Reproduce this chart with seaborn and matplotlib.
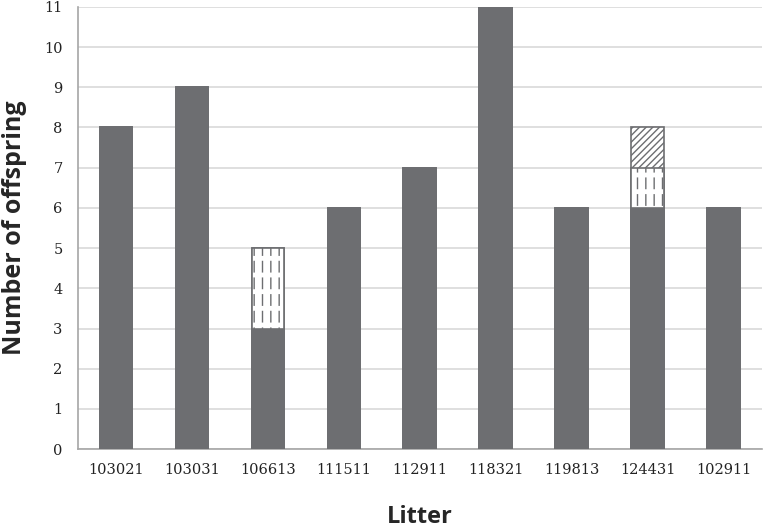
import matplotlib.pyplot as plt
import numpy as np
import pandas as pd
import seaborn as sns

litters = ["103021", "103031", "106613", "111511", "112911",
           "118321", "119813", "124431", "102911"]
solid = [8, 9, 3, 6, 7, 11, 6, 6, 6]
dashed = [0, 0, 2, 0, 0, 0, 0, 1, 0]
hatched = [0, 0, 0, 0, 0, 0, 0, 1, 0]


def main() -> None:
    df = pd.DataFrame({"Litter": litters, "solid": solid,
                       "dashed": dashed, "hatched": hatched})
    df["lvl2"] = df["solid"] + df["dashed"]
    df["lvl3"] = df["lvl2"] + df["hatched"]

    sns.set_style("white")
    plt.rcParams["hatch.linewidth"] = 1.0

    fig = plt.figure(figsize=(7.64, 5.29), dpi=100)
    ax = fig.add_axes([0.102, 0.151, 0.895, 0.836])

    grey = "#6d6e71"
    w = 0.43
    # stacked segments drawn as cumulative totals, top layer first
    sns.barplot(data=df, x="Litter", y="lvl3", ax=ax, width=w, color="white",
                edgecolor=grey, linewidth=1.2, hatch="/////", saturation=1, zorder=3)
    sns.barplot(data=df, x="Litter", y="lvl2", ax=ax, width=w, color="white",
                edgecolor=grey, linewidth=0, hatch="||", saturation=1, zorder=3)
    # white horizontal hatch breaks the vertical lines into dashes
    sns.barplot(data=df, x="Litter", y="lvl2", ax=ax, width=w, color="white",
                saturation=1, zorder=3.1)
    for p in ax.containers[-1]:
        p.set_facecolor("none")
        p.set_edgecolor("white")
        p.set_linewidth(0)
        p.set_hatch("-")
        if hasattr(p, "set_hatch_linewidth"):
            p.set_hatch_linewidth(3.5)
    # outline of the dashed segment
    sns.barplot(data=df, x="Litter", y="lvl2", ax=ax, width=w, color="white",
                saturation=1, zorder=3.2)
    for p in ax.containers[-1]:
        p.set_facecolor("none")
        p.set_edgecolor(grey)
        p.set_linewidth(1.2)
    sns.barplot(data=df, x="Litter", y="solid", ax=ax, width=w, color=grey,
                edgecolor=grey, linewidth=1.2, saturation=1, zorder=3.3)

    ax.set_ylim(0, 11)
    ax.set_xlim(-0.5, len(litters) - 0.5)
    ax.set_yticks(range(0, 12))
    ax.yaxis.grid(True, color="#d9d9d9", linewidth=1.2, zorder=0)
    ax.set_axisbelow(True)

    ax.set_xticks(np.arange(-0.5, len(litters)), minor=True)
    ax.tick_params(axis="x", which="major", length=0, pad=10)
    ax.tick_params(axis="x", which="minor", length=5, width=1.2, color="#a6a6a6", direction="out")
    ax.tick_params(axis="y", length=5, width=1.2, color="#a6a6a6", direction="out", pad=6)
    ax.tick_params(labelsize=10.5)
    for lab in ax.get_xticklabels() + ax.get_yticklabels():
        lab.set_family("DejaVu Serif")
        lab.set_color("#222222")

    sns.despine(ax=ax)
    for s in ("left", "bottom"):
        ax.spines[s].set_color("#a6a6a6")
        ax.spines[s].set_linewidth(1.2)

    ax.set_xlabel("Litter", fontsize=17, fontweight="bold", family="Open Sans", labelpad=20)
    ax.set_ylabel("Number of offspring", fontsize=18, fontweight="bold", family="Open Sans", labelpad=12)

    fig.savefig("out.png", dpi=100)
    plt.close(fig)


if __name__ == "__main__":
    main()
